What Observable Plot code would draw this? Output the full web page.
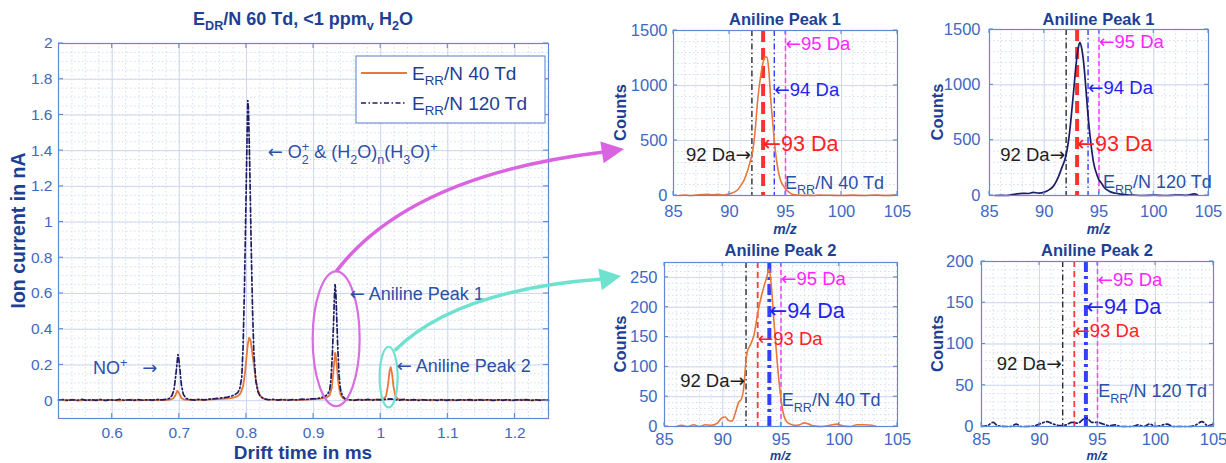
<!DOCTYPE html>
<html><head><meta charset="utf-8">
<script src="https://cdn.jsdelivr.net/npm/d3@7"></script>
<script src="https://cdn.jsdelivr.net/npm/@observablehq/plot@0.6"></script>
<style>
body{margin:0;background:#fff;}
#root{position:relative;width:1226px;height:463px;overflow:hidden;background:#fff;}
#root svg{position:absolute;}
</style></head>
<body><div id="root"></div>
<script>
// ---------------- DATA ----------------
const seriesNames = ["E_{RR}/N 40 Td", "E_{RR}/N 120 Td"];

// Main chart: drift time (ms) and ion current (nA)
const driftTime40 = [0.520,0.530,0.540,0.550,0.560,0.570,0.580,0.590,0.600,0.610,0.620,0.630,0.640,0.650,0.660,0.670,0.680,0.686,0.691,0.694,0.697,0.700,0.703,0.707,0.715,0.725,0.735,0.745,0.755,0.765,0.775,0.782,0.787,0.791,0.795,0.798,0.800,0.802,0.804,0.806,0.808,0.811,0.814,0.817,0.820,0.825,0.832,0.845,0.860,0.875,0.890,0.903,0.912,0.919,0.924,0.927,0.929,0.931,0.932,0.933,0.935,0.937,0.940,0.944,0.950,0.960,0.970,0.980,0.990,0.998,1.004,1.008,1.011,1.013,1.015,1.017,1.019,1.022,1.026,1.032,1.045,1.060,1.075,1.090,1.105,1.120,1.135,1.150,1.165,1.180,1.195,1.210,1.225,1.240,1.250];
const current40 = [0.004,0.001,0.005,0.000,0.004,0.002,0.005,0.001,0.004,0.000,0.003,0.005,0.001,0.004,0.002,0.005,0.003,0.006,0.012,0.028,0.055,0.038,0.014,0.006,0.004,0.006,0.003,0.006,0.008,0.010,0.013,0.018,0.025,0.040,0.080,0.160,0.240,0.315,0.352,0.340,0.290,0.200,0.115,0.060,0.030,0.012,0.006,0.004,0.006,0.003,0.006,0.008,0.011,0.016,0.030,0.070,0.140,0.225,0.268,0.255,0.180,0.095,0.035,0.012,0.006,0.003,0.006,0.004,0.006,0.005,0.008,0.025,0.090,0.160,0.188,0.150,0.080,0.025,0.008,0.005,0.003,0.006,0.002,0.005,0.001,0.004,0.002,0.005,0.001,0.004,0.002,0.005,0.001,0.004,0.002];

const driftTime120 = [0.520,0.527,0.534,0.541,0.548,0.555,0.562,0.569,0.576,0.583,0.590,0.597,0.604,0.611,0.618,0.625,0.632,0.639,0.646,0.653,0.660,0.667,0.674,0.680,0.685,0.689,0.692,0.695,0.697,0.698,0.699,0.701,0.703,0.706,0.710,0.716,0.723,0.730,0.737,0.744,0.751,0.758,0.765,0.772,0.778,0.783,0.787,0.790,0.793,0.795,0.797,0.799,0.801,0.802,0.803,0.805,0.807,0.809,0.811,0.814,0.817,0.821,0.826,0.833,0.840,0.847,0.854,0.861,0.868,0.875,0.882,0.889,0.896,0.903,0.910,0.916,0.921,0.924,0.926,0.928,0.930,0.931,0.932,0.933,0.934,0.936,0.938,0.940,0.943,0.947,0.953,0.960,0.967,0.974,0.981,0.988,0.995,1.002,1.009,1.015,1.021,1.028,1.035,1.042,1.049,1.056,1.063,1.070,1.077,1.084,1.091,1.098,1.105,1.112,1.119,1.126,1.133,1.140,1.147,1.154,1.161,1.168,1.175,1.182,1.189,1.196,1.203,1.210,1.217,1.224,1.231,1.238,1.245,1.250];
const current120 = [0.003,0.006,0.001,0.005,0.002,0.007,0.001,0.005,0.002,0.006,0.001,0.005,0.002,0.007,0.002,0.005,0.001,0.006,0.002,0.005,0.003,0.006,0.004,0.007,0.012,0.028,0.060,0.150,0.225,0.258,0.240,0.170,0.090,0.035,0.012,0.006,0.003,0.007,0.004,0.008,0.010,0.013,0.016,0.020,0.026,0.034,0.045,0.065,0.130,0.300,0.620,1.050,1.500,1.680,1.640,1.300,0.880,0.520,0.270,0.110,0.050,0.022,0.010,0.005,0.007,0.003,0.006,0.002,0.006,0.004,0.008,0.006,0.010,0.011,0.015,0.022,0.035,0.060,0.120,0.260,0.460,0.580,0.650,0.620,0.520,0.300,0.140,0.065,0.025,0.010,0.005,0.002,0.006,0.003,0.007,0.003,0.006,0.004,0.008,0.010,0.006,0.003,0.007,0.002,0.006,0.001,0.005,0.002,0.006,0.001,0.005,0.002,0.006,0.001,0.005,0.003,0.006,0.001,0.005,0.002,0.006,0.001,0.005,0.002,0.006,0.001,0.005,0.003,0.006,0.001,0.005,0.002,0.005,0.003];

const xTicksMain = [0.6, 0.7, 0.8, 0.9, 1, 1.1, 1.2];
const yTicksMain = [0, 0.2, 0.4, 0.6, 0.8, 1, 1.2, 1.4, 1.6, 1.8, 2];

// Main chart annotations (text, drift time, current)
const mainNotes = ["NO^{+}   →", "← O_{2}^{+} & (H_{2}O)_{n}(H_{3}O)^{+}", "← Aniline Peak 1", "← Aniline Peak 2"];
const mainNoteTime = [0.572, 0.8325, 0.9545, 1.0245];
const mainNoteCurrent = [0.18, 1.39, 0.595, 0.193];

// Ellipses round the aniline peaks
const ellipseTime = [0.9344, 1.0126];
const ellipseCurrent = [0.344, 0.129];
const ellipseHalfTime = [0.035, 0.0134];
const ellipseHalfCurrent = [0.377, 0.17];

// Mass spectra
const mzTicks = [85, 90, 95, 100, 105];
const countTicksPeak1 = [0, 500, 1000, 1500];
const countTicksPeak2at40 = [0, 50, 100, 150, 200, 250];
const countTicksPeak2at120 = [0, 50, 100, 150, 200];

const mzP1at40 = [85.5,86,86.5,87,87.5,88,88.5,89,89.5,90,90.5,90.8,91,91.3,91.6,91.9,92,92.3,92.5,92.8,93,93.2,93.35,93.5,93.7,93.9,94,94.2,94.4,94.6,94.8,95,95.3,95.6,96,96.5,97,97.5,98,99,100,101,102,103,103.5,104,104.8];
const countsP1at40 = [0,5,0,3,8,12,6,10,5,15,35,60,90,140,220,330,365,600,850,1100,1210,1260,1255,1150,850,620,500,320,200,125,90,60,30,12,5,0,3,0,4,2,0,3,0,5,2,0,3];

const mzP1at120 = [85.5,86,86.5,87,87.5,88,88.5,89,89.5,90,90.5,90.8,91,91.3,91.6,91.9,92,92.3,92.5,92.7,92.9,93.1,93.25,93.4,93.6,93.8,94,94.25,94.5,94.8,95,95.2,95.5,96,96.5,97,97.5,98,99,100,101,102,103,103.7,104];
const countsP1at120 = [0,2,0,5,15,20,18,28,22,30,55,80,110,170,250,330,370,560,750,960,1180,1330,1385,1340,1200,970,720,480,300,190,140,115,70,35,20,12,5,4,0,3,0,4,2,15,5];

const mzP2at40 = [86,86.5,87,87.5,88,88.5,89,89.5,89.9,90.2,90.5,90.8,91.1,91.35,91.6,91.8,91.95,92.1,92.4,92.7,93,93.4,93.8,94,94.2,94.4,94.7,95,95.25,95.5,95.8,96.2,96.6,97,97.4,97.8,98.5,99.2,99.8,100.3,101,101.5,102.2,102.8,103.2];
const countsP2at40 = [0,2,0,3,0,3,2,5,14,16,10,9,24,40,46,65,100,125,138,155,190,225,252,264,228,175,102,46,18,8,4,2,3,6,4,1,0,2,4,1,0,3,3,2,0];

const mzP2at120 = [85,85.5,86,86.4,87,87.5,88,88.4,89,89.6,90.2,90.6,91.2,91.8,92.3,92.8,93.3,93.8,94.1,94.5,95,95.5,96,96.5,97,98,98.5,99,99.5,100,101,101.5,103,103.5,104,104.5,105];
const countsP2at120 = [0,1,5,1,0,0,3,0,0,1,4,6,3,1,2,5,4,9,10,5,5,3,1,2,0,0,2,0,3,0,3,0,0,2,6,1,3];

// Reference masses and their annotation heights (counts) per panel
const refMasses = [92, 93, 94, 95];
const refLabels = ["92 Da", "93 Da", "94 Da", "95 Da"];
const notesP1at40 = [364, 470, 960, 1380];
const notesP1at120 = [367, 468, 970, 1390];
const notesP2at40 = [77, 147, 194, 248];
const notesP2at120 = [76, 116, 145, 178];
// condition label position (m/z, counts)
const condP1at40 = [95.0, 112], condP1at120 = [95.4, 113], condP2at40 = [95.1, 43], condP2at120 = [95.1, 42];

// ---------------- STYLE ----------------
const FONT = '"Liberation Sans", Arial, Helvetica, sans-serif';
const ARROWFONT = '"DejaVu Sans", sans-serif';
const C = {tick:"#3e68c2", title:"#1e3f94", frame:"#6388d3", major:"#cdd8ef", minor:"#d3dcef", note:"#2b50a6",
  orange:"#e8773a", navy:"#1d1d66"};
const noteColors = ["#1e1e1e", "#ff2222", "#2323ee", "#ff25ff"];
const refStyleP1 = [
  {stroke:"#2d2d2d", w:1.4, dash:"6,3,1.5,3"},
  {stroke:"#ff3030", w:4, dash:"12,6"},
  {stroke:"#3440ff", w:1.4, dash:"6,3,1.5,3"},
  {stroke:"#ff40ff", w:1.5, dash:"5,3"}];
const refStyleP2 = [
  {stroke:"#2d2d2d", w:1.4, dash:"6,3,1.5,3"},
  {stroke:"#ff3a3a", w:1.8, dash:"6,4"},
  {stroke:"#3440ff", w:4, dash:"11,4,3,4"},
  {stroke:"#ff40ff", w:1.5, dash:"5,3"}];

const root = document.getElementById("root");

function rich(g, x, y, str, o = {}) {
  const size = o.size || 16;
  const t = g.append("text")
    .attr("x", x).attr("y", y)
    .attr("font-family", FONT).attr("font-size", size)
    .attr("font-weight", o.weight || "normal")
    .attr("font-style", o.italic ? "italic" : "normal")
    .attr("fill", o.fill || C.note)
    .attr("text-anchor", o.anchor || "start")
    .style("white-space", "pre");
  if (o.rotate) t.attr("transform", `rotate(-90 ${x} ${y})`);
  const parts = str.match(/_\{[^}]*\}|\^\{[^}]*\}|[^_^]+/g) || [];
  let shift = 0, prevSub = null;
  for (const p of parts) {
    let mode = null, s = p;
    if (p[0] === "_") { mode = "sub"; s = p.slice(2, -1); }
    else if (p[0] === "^") { mode = "sup"; s = p.slice(2, -1); }
    const target = mode === "sub" ? size * 0.3 : mode === "sup" ? -size * 0.42 : 0;
    const pieces = s.split(/([←→])/).filter(q => q.length);
    let last = null;
    pieces.forEach((piece, k) => {
      const ts = t.append("tspan").text(piece).attr("dy", k === 0 ? target - shift : 0);
      if (/[←→]/.test(piece)) ts.attr("font-family", ARROWFONT).attr("font-weight", "normal");
      if (mode) ts.attr("font-size", size * 0.7);
      if (k === 0 && mode === "sup" && prevSub) ts.attr("dx", -prevSub.getComputedTextLength());
      last = ts;
    });
    prevSub = mode === "sub" && last ? last.node() : null;
    shift = target;
  }
  return t;
}

function panel(cfg) {
  const [mt, mr, mb, ml] = cfg.margin;
  const plot = Plot.plot({
    width: cfg.width, height: cfg.height,
    marginTop: mt, marginRight: mr, marginBottom: mb, marginLeft: ml,
    x: {domain: cfg.xDomain, ticks: cfg.xTicks, tickSize: 0, tickPadding: cfg.xPad, label: null, tickFormat: d => String(d)},
    y: {domain: cfg.yDomain, ticks: cfg.yTicks, tickSize: 0, tickPadding: cfg.yPad, label: null, tickFormat: d => String(d)},
    style: {fontFamily: FONT, fontSize: cfg.fontSize + "px", color: C.tick, background: "transparent", overflow: "visible"},
    marks: [
      Plot.ruleX(cfg.xMinor, {stroke: C.minor, strokeDasharray: "1.5,2.5"}),
      Plot.ruleY(cfg.yMinor, {stroke: C.minor, strokeDasharray: "1.5,2.5"}),
      Plot.ruleX(cfg.xTicks, {stroke: C.major}),
      Plot.ruleY(cfg.yTicks, {stroke: C.major}),
      ...cfg.marks,
      Plot.frame({stroke: C.frame, strokeWidth: 1.2})
    ]
  });
  plot.style.position = "absolute";
  plot.style.left = cfg.left + "px";
  plot.style.top = cfg.top + "px";
  root.appendChild(plot);
  const sx = plot.scale("x"), sy = plot.scale("y");
  const X = d3.scaleLinear(sx.domain, sx.range), Y = d3.scaleLinear(sy.domain, sy.range);
  const svg = d3.select(plot);
  const xa = X(cfg.xDomain[0]), xb = X(cfg.xDomain[1]);
  const yb = Y(cfg.yDomain[0]), ya = Y(cfg.yDomain[1]);
  const L = cfg.tickLen;
  const g = svg.append("g").attr("stroke", C.frame).attr("stroke-width", 1.1);
  for (const v of cfg.xTicks) {
    const x = X(v);
    g.append("line").attr("x1", x).attr("x2", x).attr("y1", yb).attr("y2", yb - L);
    g.append("line").attr("x1", x).attr("x2", x).attr("y1", ya).attr("y2", ya + L);
  }
  for (const v of cfg.yTicks) {
    const y = Y(v);
    g.append("line").attr("x1", xa).attr("x2", xa + L).attr("y1", y).attr("y2", y);
    g.append("line").attr("x1", xb).attr("x2", xb - L).attr("y1", y).attr("y2", y);
  }
  return {plot, svg, X, Y, xa, xb, ya, yb};
}

// ---------------- MAIN CHART ----------------
const rows40 = driftTime40.map((t, i) => ({t, v: current40[i]}));
const rows120 = driftTime120.map((t, i) => ({t, v: current120[i]}));

const main = panel({
  left: 0, top: 0, width: 560, height: 463, margin: [43, 12, 45, 58],
  xDomain: [0.52, 1.25], yDomain: [-0.1, 2],
  xTicks: xTicksMain, yTicks: yTicksMain,
  xMinor: d3.range(26, 63).map(i => i * 0.02), yMinor: d3.range(-2, 41).map(i => i * 0.05),
  xPad: 8, yPad: 6, fontSize: 15.5, tickLen: 5,
  marks: [
    Plot.line(rows40, {x: "t", y: "v", stroke: C.orange, strokeWidth: 1.8}),
    Plot.line(rows120, {x: "t", y: "v", stroke: C.navy, strokeWidth: 1.7, strokeDasharray: "5,2.5,1.5,2.5"})
  ]
});
{
  const {svg, X, Y} = main;
  const ecol = ["#d96ee0", "#70e2d2"];
  const eg = svg.append("g").attr("fill", "none").attr("stroke-width", 2.2);
  ellipseTime.forEach((t, i) => {
    eg.append("ellipse").attr("cx", X(t)).attr("cy", Y(ellipseCurrent[i]))
      .attr("rx", X(t + ellipseHalfTime[i]) - X(t)).attr("ry", Y(0) - Y(ellipseHalfCurrent[i]))
      .attr("stroke", ecol[i]);
  });
  mainNotes.forEach((s, i) => rich(svg, X(mainNoteTime[i]), Y(mainNoteCurrent[i]) + 6.3, s, {size: 18, fill: C.note}));
  const cx = (main.xa + main.xb) / 2;
  rich(svg, cx, 25, "E_{DR}/N 60 Td, <1 ppm_{v} H_{2}O", {size: 18, weight: "bold", fill: C.title, anchor: "middle"});
  rich(svg, cx, 459, "Drift time in ms", {size: 19, weight: "bold", fill: C.title, anchor: "middle"});
  rich(svg, 25, (main.ya + main.yb) / 2, "Ion current in nA", {size: 19.5, weight: "bold", fill: C.title, anchor: "middle", rotate: true});
  const lg = svg.append("g");
  lg.append("rect").attr("x", 356).attr("y", 56).attr("width", 189).attr("height", 67)
    .attr("fill", "#fff").attr("stroke", C.frame).attr("stroke-width", 1.1);
  const ly = [73, 103];
  lg.append("line").attr("x1", 361).attr("x2", 407).attr("y1", ly[0]).attr("y2", ly[0]).attr("stroke", C.orange).attr("stroke-width", 1.8);
  lg.append("line").attr("x1", 361).attr("x2", 407).attr("y1", ly[1]).attr("y2", ly[1]).attr("stroke", C.navy).attr("stroke-width", 1.7).attr("stroke-dasharray", "5,2.5,1.5,2.5");
  seriesNames.forEach((s, i) => rich(lg, 412, ly[i] + 6.5, s, {size: 19, fill: C.title}));
}

// ---------------- MASS SPECTRA ----------------
function massPanel(cfg) {
  const rows = cfg.mz.map((m, i) => ({m, c: cfg.counts[i]}));
  const marks = [];
  refMasses.forEach((m, i) => {
    const st = cfg.refStyle[i];
    marks.push(Plot.ruleX([m], {stroke: st.stroke, strokeWidth: st.w, strokeDasharray: st.dash}));
  });
  marks.push(Plot.line(rows, {x: "m", y: "c", stroke: cfg.color, strokeWidth: cfg.lineWidth, strokeDasharray: cfg.dash || null, curve: "monotone-x"}));
  const p = panel({
    left: cfg.left, top: cfg.top, width: cfg.width, height: cfg.height, margin: cfg.margin,
    xDomain: [85, 105], yDomain: cfg.yDomain, xTicks: mzTicks, yTicks: cfg.yTicks,
    xMinor: d3.range(85, 106, 1), yMinor: d3.range(0, cfg.yDomain[1] + 0.1, cfg.yMinorStep),
    xPad: cfg.xPad, yPad: cfg.yPad, fontSize: 16.5, tickLen: 4, marks
  });
  refMasses.forEach((m, i) => {
    const first = i === 0, size = cfg.noteSizes[i];
    rich(p.svg, p.X(m) + (first ? -0.5 : 0.5), p.Y(cfg.notes[i]) + size * 0.35,
      first ? refLabels[i] + "→" : "←" + refLabels[i],
      {size, fill: noteColors[i], anchor: first ? "end" : "start"});
  });
  const cx = (p.xa + p.xb) / 2, cy = (p.ya + p.yb) / 2;
  rich(p.svg, p.X(cfg.cond[0]), p.Y(cfg.cond[1]) + 6, cfg.condText, {size: 18, fill: C.note});
  rich(p.svg, cx, cfg.titleY, cfg.title, {size: 16.5, weight: "bold", fill: C.title, anchor: "middle"});
  rich(p.svg, cx, cfg.mzY, "m/z", {size: cfg.mzSize, weight: "bold", italic: true, fill: C.title, anchor: "middle"});
  rich(p.svg, cfg.countsX, cy, "Counts", {size: 16.5, weight: "bold", fill: C.title, anchor: "middle", rotate: true});
  return p;
}

massPanel({left: 600, top: 0, width: 310, height: 240, margin: [30, 13, 45, 73],
  mz: mzP1at40, counts: countsP1at40, color: C.orange, lineWidth: 1.6,
  yDomain: [0, 1500], yTicks: countTicksPeak1, yMinorStep: 100, xPad: 10, yPad: 6,
  refStyle: refStyleP1, notes: notesP1at40, noteSizes: [18.5, 21.5, 18.5, 18.5],
  cond: condP1at40, condText: seriesNames[0], title: "Aniline Peak 1", titleY: 25, mzY: 234, mzSize: 14, countsX: 26});

massPanel({left: 920, top: 0, width: 306, height: 240, margin: [29, 18, 45, 69],
  mz: mzP1at120, counts: countsP1at120, color: C.navy, lineWidth: 1.7,
  yDomain: [0, 1500], yTicks: countTicksPeak1, yMinorStep: 100, xPad: 10, yPad: 9,
  refStyle: refStyleP1, notes: notesP1at120, noteSizes: [18.5, 21.5, 18.5, 18.5],
  cond: condP1at120, condText: seriesNames[1], title: "Aniline Peak 1", titleY: 25, mzY: 234, mzSize: 14, countsX: 23});

massPanel({left: 600, top: 228, width: 310, height: 235, margin: [34, 13, 37, 64],
  mz: mzP2at40, counts: countsP2at40, color: C.orange, lineWidth: 1.6,
  yDomain: [0, 275], yTicks: countTicksPeak2at40, yMinorStep: 10, xPad: 7, yPad: 7,
  refStyle: refStyleP2, notes: notesP2at40, noteSizes: [18.5, 18.5, 21.5, 18.5],
  cond: condP2at40, condText: seriesNames[0], title: "Aniline Peak 2", titleY: 28, mzY: 232.2, mzSize: 12.5, countsX: 26});

massPanel({left: 920, top: 228, width: 306, height: 235, margin: [33, 13, 37, 61],
  mz: mzP2at120, counts: countsP2at120, color: C.navy, lineWidth: 1.7, dash: "5,2.5,1.5,2.5",
  yDomain: [0, 200], yTicks: countTicksPeak2at120, yMinorStep: 10, xPad: 7, yPad: 8,
  refStyle: refStyleP2, notes: notesP2at120, noteSizes: [18.5, 18.5, 21.5, 18.5],
  cond: condP2at120, condText: seriesNames[1], title: "Aniline Peak 2", titleY: 28, mzY: 232.2, mzSize: 12.5, countsX: 23});

// ---------------- CONNECTING ARROWS ----------------
{
  const ov = d3.create("svg").attr("width", 1226).attr("height", 463)
    .style("left", "0px").style("top", "0px").style("pointer-events", "none");
  const {X, Y} = main;
  const s1 = [X(ellipseTime[0]), Y(ellipseCurrent[0] + ellipseHalfCurrent[0])];
  const s2 = [X(ellipseTime[1]) + 6, Y(ellipseCurrent[1] + ellipseHalfCurrent[1]) + 4];
  const arrows = [
    {s: s1, c: [410, 175], e: [604, 152], tip: [624, 149], col: "#d963e0"},
    {s: s2, c: [455, 290], e: [602, 279], tip: [621, 276], col: "#6fe2cf"}
  ];
  for (const a of arrows) {
    ov.append("path").attr("d", `M${a.s[0]},${a.s[1]} Q${a.c[0]},${a.c[1]} ${a.e[0]},${a.e[1]}`)
      .attr("fill", "none").attr("stroke", a.col).attr("stroke-width", 3.5);
    const dx = a.tip[0] - a.e[0], dy = a.tip[1] - a.e[1], len = Math.hypot(dx, dy);
    const nx = -dy / len * 11, ny = dx / len * 11;
    ov.append("path").attr("d", `M${a.tip[0]},${a.tip[1]} L${a.e[0] - dx * 0.1 + nx},${a.e[1] - dy * 0.1 + ny} L${a.e[0] - dx * 0.1 - nx},${a.e[1] - dy * 0.1 - ny} Z`)
      .attr("fill", a.col);
  }
  root.appendChild(ov.node());
}
</script></body></html>
